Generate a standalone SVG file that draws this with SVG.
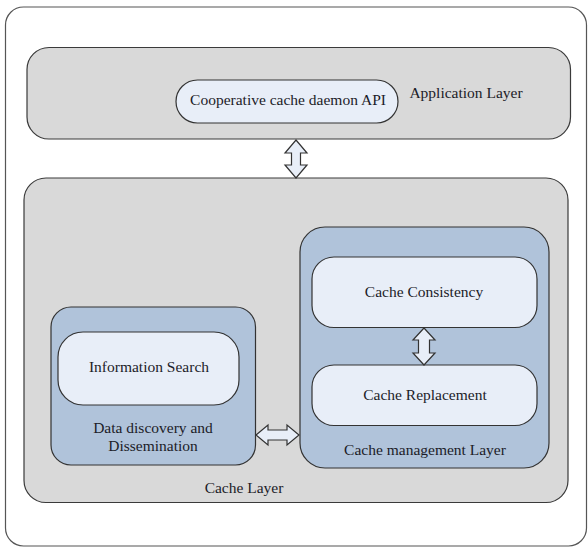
<svg xmlns="http://www.w3.org/2000/svg" width="588" height="548" viewBox="0 0 588 548">
<style>
.layer{fill:#d9d9d9;stroke:#3a3a3a;stroke-width:1.2}
.group{fill:#b0c3da;stroke:#333;stroke-width:1.2}
.pill{fill:#e8eef8;stroke:#333;stroke-width:1.2}
.arrow{fill:#e8eef8;stroke:#333;stroke-width:1.2;stroke-linejoin:miter}
text{font-family:"Liberation Serif","Times New Roman",serif;font-size:15.5px;fill:#1c1c28;text-anchor:middle}
</style>
<rect x="5.5" y="7" width="581" height="539" rx="18" fill="#fff" stroke="#555" stroke-width="1.2"/>
<g id="application-layer">
<rect class="layer" x="27" y="47.5" width="543.5" height="91.5" rx="22"/>
<text x="466" y="98">Application Layer</text>
</g>
<g id="daemon-api">
<rect class="pill" x="176" y="80" width="222" height="43" rx="21.5"/>
<text x="288" y="105">Cooperative cache daemon API</text>
</g>
<g id="cache-layer">
<rect class="layer" x="24" y="178" width="544" height="324.5" rx="22"/>
<text x="244" y="493">Cache Layer</text>
</g>
<g id="data-discovery">
<rect class="group" x="51" y="307" width="204.5" height="158" rx="20"/>
<text x="153" y="433">Data discovery and</text>
<text x="153" y="451">Dissemination</text>
</g>
<g id="information-search">
<rect class="pill" x="58" y="332" width="181" height="73" rx="25"/>
<text x="149" y="372">Information Search</text>
</g>
<g id="cache-management">
<rect class="group" x="300" y="227" width="249" height="241" rx="25"/>
<text x="425" y="455">Cache management Layer</text>
</g>
<g id="cache-consistency">
<rect class="pill" x="312" y="257" width="225" height="70.5" rx="22"/>
<text x="424" y="297">Cache Consistency</text>
</g>
<g id="cache-replacement">
<rect class="pill" x="312" y="365" width="225" height="60.5" rx="22"/>
<text x="425" y="400">Cache Replacement</text>
</g>
<g id="connectors">
<polygon class="arrow" points="296,140 307,153 300.5,153 300.5,165 307,165 296,178 285,165 291.5,165 291.5,153 285,153"/>
<polygon class="arrow" points="256,435 268,425 268,430 287,430 287,425 299,435 287,445 287,440 268,440 268,445"/>
<polygon class="arrow" points="424,328 435,340 429.5,340 429.5,353 435,353 424,365 413,353 418.5,353 418.5,340 413,340"/>
</g>
</svg>
